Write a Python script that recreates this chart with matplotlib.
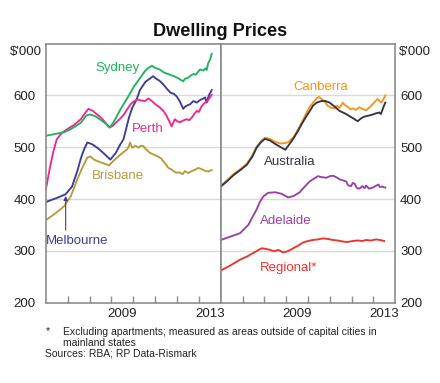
"""
Dwelling Prices: capital cities (left) and Australia / regional (right).
"""
import matplotlib
matplotlib.use('Agg')
import matplotlib.pyplot as plt

plt.rcParams['font.family'] = ['Liberation Sans', 'DejaVu Sans']

# ---- Left panel data ($'000) ----
syd_t = [2006.0, 2006.5, 2006.85, 2007.1, 2007.35, 2007.6, 2007.85, 2008.0, 2008.25, 2008.5,
         2008.75, 2008.9, 2009.05, 2009.2, 2009.4, 2009.6, 2009.8, 2010.0, 2010.25, 2010.5,
         2010.65, 2010.85, 2011.0, 2011.2, 2011.4, 2011.6, 2011.85, 2012.05, 2012.28, 2012.36,
         2012.5, 2012.62, 2012.74, 2012.85, 2013.05, 2013.2, 2013.3, 2013.35, 2013.42, 2013.5, 2013.58]
syd_v = [522, 526, 529, 534, 540, 547, 561, 563, 560, 553,
         545, 538, 545, 556, 572, 586, 600, 615, 630, 645,
         652, 657, 653, 650, 644, 641, 637, 633, 627, 632,
         634, 638, 641, 640, 650, 648, 652, 649, 662, 668, 680]

per_t = [2006.0, 2006.1, 2006.2, 2006.35, 2006.5, 2006.7, 2006.85, 2007.1, 2007.3, 2007.6,
         2007.8, 2007.95, 2008.15, 2008.35, 2008.55, 2008.75, 2008.92, 2009.05, 2009.2, 2009.4,
         2009.57, 2009.75, 2009.9, 2010.05, 2010.2, 2010.35, 2010.53, 2010.69, 2010.85, 2011.0,
         2011.2, 2011.37, 2011.5, 2011.62, 2011.75, 2011.9, 2012.0, 2012.13, 2012.25, 2012.44,
         2012.55, 2012.67, 2012.8, 2012.9, 2013.0, 2013.12, 2013.27, 2013.4, 2013.5, 2013.58]
per_v = [418, 440, 463, 492, 515, 526, 531, 538, 543, 554,
         566, 574, 570, 563, 556, 546, 538, 541, 547, 555,
         563, 575, 584, 589, 592, 590, 589, 594, 589, 583,
         577, 570, 562, 552, 540, 554, 550, 548, 551, 554,
         552, 557, 565, 570, 568, 579, 586, 590, 596, 601]

mel_t = [2006.0, 2006.5, 2006.9, 2007.2, 2007.45, 2007.6, 2007.75, 2007.9, 2008.1, 2008.35,
         2008.55, 2008.75, 2008.95, 2009.2, 2009.4, 2009.55, 2009.7, 2009.8, 2009.95, 2010.15,
         2010.3, 2010.55, 2010.75, 2010.9, 2011.05, 2011.2, 2011.37, 2011.55, 2011.7, 2011.85,
         2011.98, 2012.13, 2012.28, 2012.36, 2012.44, 2012.6, 2012.74, 2012.9, 2013.05, 2013.2,
         2013.28, 2013.35, 2013.45, 2013.58]
mel_v = [394, 402, 409, 424, 455, 478, 496, 509, 506, 499,
         492, 484, 476, 489, 505, 515, 540, 557, 576, 592,
         610, 626, 632, 637, 632, 628, 621, 612, 605, 603,
         598, 588, 574, 578, 580, 583, 589, 586, 591, 594,
         596, 586, 600, 610]

bri_t = [2006.0, 2006.4, 2006.84, 2007.14, 2007.44, 2007.7, 2007.9, 2008.05, 2008.2, 2008.5,
         2008.89, 2009.1, 2009.42, 2009.6, 2009.72, 2009.8, 2009.85, 2009.95, 2010.1, 2010.23,
         2010.35, 2010.46, 2010.6, 2010.76, 2011.07, 2011.25, 2011.37, 2011.5, 2011.6, 2011.75,
         2011.83, 2011.95, 2012.13, 2012.25, 2012.36, 2012.5, 2012.67, 2012.8, 2012.97, 2013.1,
         2013.2, 2013.3, 2013.42, 2013.58]
bri_v = [359, 371, 386, 405, 438, 463, 480, 482, 476, 471,
         465, 474, 486, 492, 496, 502, 509, 499, 503, 499,
         503, 502, 495, 489, 483, 479, 473, 466, 460, 457,
         454, 451, 451, 448, 454, 450, 454, 456, 460, 458,
         456, 454, 453, 456]

# ---- Right panel data ($'000) ----
can_t = [2006.0, 2006.3, 2006.58, 2006.9, 2007.19, 2007.45, 2007.64, 2007.85, 2008.02, 2008.25,
         2008.5, 2008.75, 2008.95, 2009.1, 2009.35, 2009.55, 2009.73, 2009.88, 2010.05, 2010.25,
         2010.4, 2010.5, 2010.6, 2010.75, 2010.9, 2011.05, 2011.2, 2011.3, 2011.45, 2011.6,
         2011.7, 2011.85, 2011.95, 2012.06, 2012.2, 2012.36, 2012.5, 2012.67, 2012.8, 2012.97,
         2013.1, 2013.2, 2013.35, 2013.45, 2013.55]
can_v = [426, 437, 448, 458, 468, 485, 501, 512, 518, 516,
         510, 507, 508, 510, 520, 535, 549, 562, 576, 587,
         594, 597, 594, 589, 580, 576, 575, 580, 576, 586,
         581, 577, 573, 575, 572, 577, 574, 571, 576, 583,
         589, 593, 586, 591, 600]

aus_t = [2006.0, 2006.3, 2006.58, 2006.9, 2007.19, 2007.45, 2007.64, 2007.85, 2008.02, 2008.25,
         2008.5, 2008.75, 2008.96, 2009.15, 2009.35, 2009.55, 2009.73, 2009.93, 2010.1, 2010.23,
         2010.4, 2010.61, 2010.8, 2010.99, 2011.2, 2011.45, 2011.7, 2011.9, 2012.1, 2012.28,
         2012.45, 2012.59, 2012.8, 2012.97, 2013.1, 2013.27, 2013.35, 2013.45, 2013.55]
aus_v = [424, 435, 446, 456, 466, 482, 499, 510, 516, 513,
         506, 500, 495, 506, 518, 532, 546, 560, 571, 580,
         586, 589, 589, 586, 579, 570, 565, 560, 555, 550,
         556, 559, 561, 563, 565, 567, 564, 576, 586]

ade_t = [2006.0, 2006.4, 2006.88, 2007.26, 2007.45, 2007.64, 2007.8, 2007.95, 2008.17, 2008.5,
         2008.79, 2009.09, 2009.35, 2009.62, 2009.85, 2010.08, 2010.3, 2010.46, 2010.65, 2010.84,
         2011.0, 2011.14, 2011.3, 2011.45, 2011.6, 2011.75, 2011.85, 2011.98, 2012.05, 2012.13,
         2012.25, 2012.36, 2012.5, 2012.6, 2012.67, 2012.8, 2012.97, 2013.1, 2013.24, 2013.3,
         2013.4, 2013.55]
ade_v = [321, 327, 334, 350, 365, 380, 395, 405, 412, 413,
         410, 403, 406, 413, 424, 434, 440, 444, 442, 441,
         444, 445, 442, 438, 436, 434, 426, 425, 431, 430,
         421, 420, 425, 421, 426, 420, 422, 425, 428, 423,
         424, 422]

reg_t = [2006.0, 2006.4, 2006.88, 2007.2, 2007.49, 2007.7, 2007.87, 2008.05, 2008.25, 2008.45,
         2008.63, 2008.86, 2009.05, 2009.24, 2009.5, 2009.77, 2010.0, 2010.23, 2010.45, 2010.69,
         2010.9, 2011.14, 2011.35, 2011.6, 2011.8, 2012.06, 2012.3, 2012.5, 2012.67, 2012.9,
         2013.12, 2013.3, 2013.5]
reg_v = [262, 271, 283, 289, 296, 301, 305, 304, 302, 299,
         302, 297, 299, 303, 309, 316, 319, 321, 322, 324,
         323, 321, 320, 318, 317, 319, 320, 319, 321, 320,
         322, 321, 319]

year_ticks = [2007, 2008, 2009, 2010, 2011, 2012, 2013]
year_label_pos = [2009.5, 2013.5]
year_labels = ['2009', '2013']
y_ticks = [200, 300, 400, 500, 600]

# Colours
GREEN = '#1fb35e'
PINK = '#f0288c'
NAVY = '#3d3d99'
OLIVE = '#b59b3e'
ORANGE = '#f7941d'
DARK = '#343447'
PURPLE = '#9b3fa8'
RED = '#f2312d'
SPINE = '#8c8c8c'
GRID = '#d9d9d9'

fig = plt.figure(figsize=(4.4, 3.83), dpi=100)
axL = fig.add_axes([0.104, 0.2097, 0.398, 0.6767])
axR = fig.add_axes([0.502, 0.2097, 0.396, 0.6767])

lw = 1.35
axL.plot(bri_t, bri_v, color=OLIVE, lw=lw)
axL.plot(mel_t, mel_v, color=NAVY, lw=lw)
axL.plot(per_t, per_v, color=PINK, lw=lw)
axL.plot(syd_t, syd_v, color=GREEN, lw=lw)

axR.plot(reg_t, reg_v, color=RED, lw=lw)
axR.plot(ade_t, ade_v, color=PURPLE, lw=lw)
axR.plot(can_t, can_v, color=ORANGE, lw=lw)
axR.plot(aus_t, aus_v, color=DARK, lw=lw)

for ax in (axL, axR):
    ax.set_xlim(2006.0, 2014.0)
    ax.set_ylim(200, 700)
    ax.set_yticks(y_ticks)
    for v in [300, 400, 500, 600]:
        ax.axhline(v, color=GRID, lw=1.0, zorder=0)
    ax.set_xticks(year_ticks)
    ax.set_xticklabels([])
    ax.set_xticks(year_label_pos, minor=True)
    ax.set_xticklabels(year_labels, minor=True)
    ax.tick_params(axis='x', which='major', direction='in', length=5, color=SPINE, width=1)
    ax.tick_params(axis='x', which='minor', length=0, pad=4, labelsize=9.5, labelcolor='#222222')
    for s in ax.spines.values():
        s.set_color(SPINE)
        s.set_linewidth(1.2)

axL.tick_params(axis='y', length=0, pad=7.5, labelsize=9.5, labelcolor='#222222')
axR.yaxis.tick_right()
axR.tick_params(axis='y', length=0, pad=3.5, labelsize=9.5, labelcolor='#222222')
axL.set_yticklabels([str(v) for v in y_ticks])
axR.set_yticklabels([str(v) for v in y_ticks])

# Series labels
fs = 9.5
axL.text(2009.3, 652, 'Sydney', color=GREEN, fontsize=fs, ha='center', va='center')
axL.text(2010.68, 536, 'Perth', color=PINK, fontsize=fs, ha='center', va='center')
axL.text(2009.3, 444, 'Brisbane', color=OLIVE, fontsize=fs, ha='center', va='center')
axL.text(2007.45, 319, 'Melbourne', color=NAVY, fontsize=fs, ha='center', va='center')
axL.annotate('', xy=(2006.91, 406), xytext=(2006.91, 340),
             arrowprops=dict(arrowstyle='-|>', color=NAVY, lw=0.8,
                             mutation_scale=6, shrinkA=0, shrinkB=0))

axR.text(2010.6, 617, 'Canberra', color=ORANGE, fontsize=fs, ha='center', va='center')
axR.text(2009.15, 471, 'Australia', color=DARK, fontsize=fs, ha='center', va='center')
axR.text(2009.0, 358, 'Adelaide', color=PURPLE, fontsize=fs, ha='center', va='center')
axR.text(2009.1, 266, 'Regional*', color=RED, fontsize=fs, ha='center', va='center')

# Title and units
fig.text(0.5, 1 - 31 / 383, 'Dwelling Prices', ha='center', va='center',
         fontsize=13.1, fontweight='bold', color='#111111')
fig.text(42 / 440, 1 - 52 / 383, "$'000", ha='right', va='center', fontsize=9.5, color='#222222')
fig.text(399 / 440, 1 - 52 / 383, "$'000", ha='left', va='center', fontsize=9.5, color='#222222')

# Footnotes
fn = 7.5
fig.text(46 / 440, 1 - 331 / 383, '*', ha='left', va='center', fontsize=fn, color='#222222')
fig.text(63 / 440, 1 - 332 / 383,
         'Excluding apartments; measured as areas outside of capital cities in',
         ha='left', va='center', fontsize=fn, color='#222222')
fig.text(63 / 440, 1 - 343 / 383, 'mainland states', ha='left', va='center',
         fontsize=fn, color='#222222')
fig.text(45 / 440, 1 - 354 / 383, 'Sources: RBA; RP Data-Rismark', ha='left', va='center',
         fontsize=fn, color='#222222')

fig.savefig('out.png', dpi=100)
plt.close(fig)
